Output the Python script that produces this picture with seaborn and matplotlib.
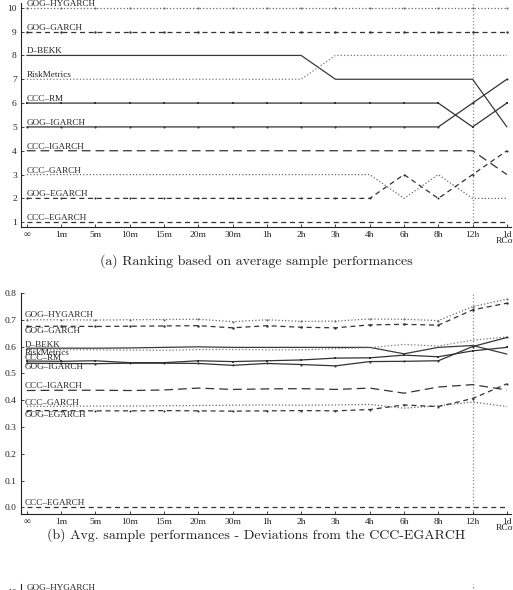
import matplotlib
matplotlib.use("Agg")
import matplotlib.pyplot as plt
import seaborn as sns

# horizons of the realised covariance proxy
X_LABELS = ['∞', '1m', '5m', '10m', '15m', '20m', '30m', '1h', '2h', '3h',
            '4h', '6h', '8h', '12h', '1d\nRCov']
XPOS = list(range(len(X_LABELS)))

MODELS = ['GOG–HYGARCH', 'GOG–GARCH', 'D–BEKK', 'RiskMetrics', 'CCC–RM',
          'GOG–IGARCH', 'CCC–IGARCH', 'CCC–GARCH', 'GOG–EGARCH', 'CCC–EGARCH']

# (a) rankings
RANK_GOG_HYGARCH = [10, 10, 10, 10, 10, 10, 10, 10, 10, 10, 10, 10, 10, 10, 10]
RANK_GOG_GARCH = [9, 9, 9, 9, 9, 9, 9, 9, 9, 9, 9, 9, 9, 9, 9]
RANK_D_BEKK = [8, 8, 8, 8, 8, 8, 8, 8, 8, 7, 7, 7, 7, 7, 5]
RANK_RISKMETRICS = [7, 7, 7, 7, 7, 7, 7, 7, 7, 8, 8, 8, 8, 8, 8]
RANK_CCC_RM = [6, 6, 6, 6, 6, 6, 6, 6, 6, 6, 6, 6, 6, 5, 6]
RANK_GOG_IGARCH = [5, 5, 5, 5, 5, 5, 5, 5, 5, 5, 5, 5, 5, 6, 7]
RANK_CCC_IGARCH = [4, 4, 4, 4, 4, 4, 4, 4, 4, 4, 4, 4, 4, 4, 3]
RANK_CCC_GARCH = [3, 3, 3, 3, 3, 3, 3, 3, 3, 3, 3, 2, 3, 2, 2]
RANK_GOG_EGARCH = [2, 2, 2, 2, 2, 2, 2, 2, 2, 2, 2, 3, 2, 3, 4]
RANK_CCC_EGARCH = [1, 1, 1, 1, 1, 1, 1, 1, 1, 1, 1, 1, 1, 1, 1]

# (b) deviations from CCC-EGARCH
DEV_GOG_HYGARCH = [0.700, 0.700, 0.699, 0.700, 0.701, 0.702, 0.693, 0.700, 0.694, 0.695,
                   0.703, 0.702, 0.697, 0.749, 0.777]
DEV_GOG_GARCH = [0.675, 0.676, 0.675, 0.676, 0.677, 0.678, 0.670, 0.678, 0.672, 0.670,
                 0.681, 0.683, 0.680, 0.737, 0.762]
DEV_D_BEKK = [0.594, 0.594, 0.594, 0.595, 0.597, 0.599, 0.597, 0.597, 0.597, 0.597,
              0.597, 0.573, 0.597, 0.604, 0.572]
DEV_RISKMETRICS = [0.588, 0.588, 0.588, 0.587, 0.586, 0.589, 0.589, 0.588, 0.588, 0.592,
                   0.596, 0.608, 0.602, 0.624, 0.636]
DEV_CCC_RM = [0.546, 0.545, 0.547, 0.540, 0.540, 0.547, 0.544, 0.547, 0.550, 0.557,
              0.558, 0.568, 0.562, 0.584, 0.597]
DEV_GOG_IGARCH = [0.538, 0.537, 0.536, 0.538, 0.538, 0.537, 0.530, 0.537, 0.533, 0.528,
                  0.544, 0.545, 0.547, 0.600, 0.634]
DEV_CCC_IGARCH = [0.436, 0.437, 0.437, 0.436, 0.438, 0.445, 0.440, 0.442, 0.443, 0.440,
                  0.445, 0.426, 0.449, 0.458, 0.438]
DEV_CCC_GARCH = [0.377, 0.377, 0.378, 0.378, 0.379, 0.380, 0.381, 0.382, 0.381, 0.382,
                 0.384, 0.370, 0.379, 0.393, 0.376]
DEV_GOG_EGARCH = [0.361, 0.361, 0.360, 0.360, 0.361, 0.360, 0.359, 0.360, 0.361, 0.360,
                  0.365, 0.382, 0.376, 0.406, 0.461]
DEV_CCC_EGARCH = [0.0, 0.0, 0.0, 0.0, 0.0, 0.0, 0.0, 0.0, 0.0, 0.0,
                  0.0, 0.0, 0.0, 0.0, 0.0]

RANKS = [RANK_GOG_HYGARCH, RANK_GOG_GARCH, RANK_D_BEKK, RANK_RISKMETRICS, RANK_CCC_RM,
         RANK_GOG_IGARCH, RANK_CCC_IGARCH, RANK_CCC_GARCH, RANK_GOG_EGARCH, RANK_CCC_EGARCH]
DEVS = [DEV_GOG_HYGARCH, DEV_GOG_GARCH, DEV_D_BEKK, DEV_RISKMETRICS, DEV_CCC_RM,
        DEV_GOG_IGARCH, DEV_CCC_IGARCH, DEV_CCC_GARCH, DEV_GOG_EGARCH, DEV_CCC_EGARCH]

# line style, marker, colour, marker size
STYLES = {
    'GOG–HYGARCH': (':', '.', '#6a6a6a', 3),
    'GOG–GARCH': ((0, (4, 3)), '.', '#333333', 3.5),
    'D–BEKK': ('-', None, '#3a3a3a', 0),
    'RiskMetrics': (':', None, '#7a7a7a', 0),
    'CCC–RM': ('-', 's', '#333333', 1.8),
    'GOG–IGARCH': ('-', '.', '#333333', 3),
    'CCC–IGARCH': ((0, (7, 4)), None, '#333333', 0),
    'CCC–GARCH': (':', None, '#6a6a6a', 0),
    'GOG–EGARCH': ((0, (4, 3)), '.', '#333333', 3),
    'CCC–EGARCH': ((0, (4, 3)), None, '#333333', 0),
}

# y centres of the left-hand labels in panel (b)
DEV_LABEL_Y = [0.717, 0.657, 0.605, 0.576, 0.557, 0.522, 0.453, 0.391, 0.346, 0.016]

sns.set_style("ticks")
plt.rcParams['font.family'] = ['Liberation Serif', 'DejaVu Serif']
CAPTION_FONT = ['cmr10', 'Liberation Serif', 'DejaVu Serif']

fig = plt.figure(figsize=(5.13, 5.90), dpi=100)
L, W = 21 / 513, 490 / 513
ax_a = fig.add_axes([L, 363 / 590, W, 224 / 590])
ax_b = fig.add_axes([L, 76 / 590, W, 221 / 590])
ax_c = fig.add_axes([L, -0.4, W, 0.4 + 6 / 590])


def draw_lines(ax, data, names):
    for name, vals in zip(names, data):
        ls, mk, col, ms = STYLES[name]
        sns.lineplot(x=XPOS, y=vals, ax=ax, color=col, linestyle=ls, marker=mk,
                     markersize=ms, markeredgewidth=0, lw=0.9, errorbar=None)
    ax.axvline(13, color='#8a8a8a', ls=':', lw=0.9, zorder=0)


def style_axis(ax):
    sns.despine(ax=ax)
    for s in ['left', 'bottom']:
        ax.spines[s].set_linewidth(0.8)
        ax.spines[s].set_color('#222222')
    ax.tick_params(direction='in', length=2.5, width=0.6, labelsize=6.8, pad=3,
                   colors='#222222')
    ax.set_xlim(-0.17, 14.12)
    ax.set_xticks(XPOS)
    ax.set_xticklabels(X_LABELS, linespacing=0.7)
    ax.set_xlabel('')
    ax.set_ylabel('')


# (a) ranking
draw_lines(ax_a, RANKS, MODELS)
for name, vals in zip(MODELS, RANKS):
    ax_a.text(0.0, vals[0] + 0.0, name, fontsize=6.6, va='bottom', ha='left', color='#222222')
style_axis(ax_a)
ax_a.set_ylim(0.8, 10.2)
ax_a.set_yticks(range(1, 11))

# (b) deviations
draw_lines(ax_b, DEVS, MODELS)
for name, y in zip(MODELS, DEV_LABEL_Y):
    ax_b.text(-0.05, y, name, fontsize=6.6, va='center', ha='left', color='#222222')
style_axis(ax_b)
ax_b.set_ylim(-0.025, 0.8)
ax_b.set_yticks([0.0, 0.1, 0.2, 0.3, 0.4, 0.5, 0.6, 0.7, 0.8])
ax_b.set_yticklabels(['0.0', '0.1', '0.2', '0.3', '0.4', '0.5', '0.6', '0.7', '0.8'])

# (c) only its top edge shows
draw_lines(ax_c, [RANK_GOG_HYGARCH], MODELS[:1])
ax_c.text(0.0, RANK_GOG_HYGARCH[0] + 0.0, MODELS[0], fontsize=6.6, va='bottom', ha='left',
          color='#222222')
style_axis(ax_c)
ax_c.set_ylim(0.8, 10.3)
ax_c.set_yticks(range(1, 11))

fig.text(0.5, 1 - 261 / 590, '(a) Ranking based on average sample performances',
         ha='center', va='center', fontsize=10, family=CAPTION_FONT, color='#222222')
fig.text(0.5, 1 - 535 / 590,
         '(b) Avg. sample performances - Deviations from the CCC-EGARCH',
         ha='center', va='center', fontsize=10, family=CAPTION_FONT, color='#222222')

fig.savefig('out.png', dpi=100)
plt.close(fig)
